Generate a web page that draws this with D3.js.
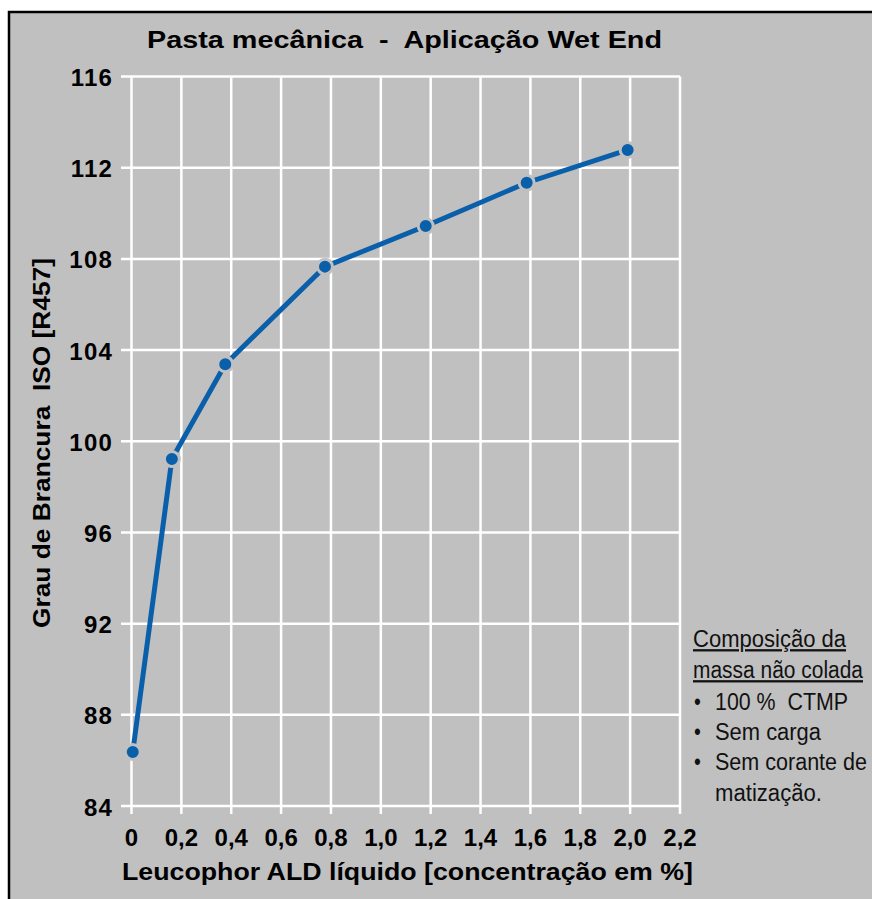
<!DOCTYPE html>
<html><head><meta charset="utf-8">
<script src="https://cdn.jsdelivr.net/npm/d3@7"></script>
<style>body{margin:0;background:#fff}svg{display:block}</style>
</head><body>
<script>
const xValues = [0.005, 0.162, 0.376, 0.776, 1.18, 1.585, 1.99];
const yValues = [86.37, 99.22, 103.38, 107.66, 109.44, 111.34, 112.78];
const xTicks = [0,0.2,0.4,0.6,0.8,1.0,1.2,1.4,1.6,1.8,2.0,2.2];
const xTickLabels = ["0","0,2","0,4","0,6","0,8","1,0","1,2","1,4","1,6","1,8","2,0","2,2"];
const yTicks = [84,88,92,96,100,104,108,112,116];
const title = "Pasta mecânica  -  Aplicação Wet End";
const xTitle = "Leucophor ALD líquido [concentração em %]";
const yTitle = "Grau de Brancura  ISO [R457]";
const noteHeader = ["Composição da","massa não colada"];
const noteItems = ["100 %  CTMP","Sem carga","Sem corante de"];
const noteTail = "matização.";

const W=872,H=899;
const svg=d3.select("body").append("svg").attr("width",W).attr("height",H);
svg.append("rect").attr("x",9).attr("y",12).attr("width",W).attr("height",H).attr("fill","#c0c0c0");
svg.append("path").attr("d",`M9,${H} V12 H${W}`).attr("fill","none").attr("stroke","#000").attr("stroke-width",2.5);

const x=d3.scaleLinear().domain([0,2.2]).range([131.5,680]);
const y=d3.scaleLinear().domain([84,116]).range([806,76.5]);
const font="'Liberation Sans', Arial, sans-serif";

// grid
const g=svg.append("g");
g.selectAll(".vg").data(xTicks).join("line")
 .attr("x1",d=>x(d)).attr("x2",d=>x(d)).attr("y1",y(116)).attr("y2",814)
 .attr("stroke","#fff").attr("stroke-width",2.5);
g.selectAll(".hg").data(yTicks).join("line")
 .attr("x1",121).attr("x2",x(2.2)).attr("y1",d=>y(d)).attr("y2",d=>y(d))
 .attr("stroke","#fff").attr("stroke-width",2.5);

// tick labels
svg.selectAll(".yl").data(yTicks).join("text")
 .attr("x",113).attr("y",d=>y(d)+9.5).attr("text-anchor","end").attr("letter-spacing",1.2)
 .attr("font-family",font).attr("font-weight","bold").attr("font-size",24).text(d=>d);
svg.selectAll(".xl").data(xTicks).join("text")
 .attr("x",(d,i)=>x(d)).attr("y",846).attr("text-anchor","middle")
 .attr("font-family",font).attr("font-weight","bold").attr("font-size",24).text((d,i)=>xTickLabels[i]);

// titles
svg.append("text").attr("x",147).attr("y",48)
 .attr("font-family",font).attr("font-weight","bold").attr("font-size",24)
 .attr("textLength",515).attr("lengthAdjust","spacingAndGlyphs").attr("xml:space","preserve").text(title);
svg.append("text").attr("x",122).attr("y",880)
 .attr("font-family",font).attr("font-weight","bold").attr("font-size",24)
 .attr("textLength",571).attr("lengthAdjust","spacingAndGlyphs").text(xTitle);
svg.append("text").attr("transform","translate(50,628) rotate(-90)")
 .attr("font-family",font).attr("font-weight","bold").attr("font-size",24)
 .attr("textLength",370).attr("lengthAdjust","spacingAndGlyphs").attr("xml:space","preserve").text(yTitle);

// line + markers
const pts=xValues.map((v,i)=>[v,yValues[i]]);
svg.append("path").datum(pts).attr("d",d3.line().x(d=>x(d[0])).y(d=>y(d[1])))
 .attr("fill","none").attr("stroke","#0a5fab").attr("stroke-width",5);
svg.selectAll(".pt").data(pts).join("circle")
 .attr("cx",d=>x(d[0])).attr("cy",d=>y(d[1])).attr("r",7.5)
 .attr("fill","#0a5fab").attr("stroke","#c0c0c0").attr("stroke-width",3);

// note (smaller font, stretched vertically to match the tall narrow lettering)
const nf="'Liberation Sans', Arial, sans-serif";
function note(xx,yy,t,len,ul){
  const tx=svg.append("text").attr("transform",`translate(${xx},${yy}) scale(1,1.18)`)
   .attr("font-family",nf).attr("font-size",19.5).attr("fill","#111")
   .attr("xml:space","preserve").text(t);
  if(len) tx.attr("textLength",len).attr("lengthAdjust","spacingAndGlyphs");
  if(ul) tx.attr("text-decoration","underline");
}
const hdrLen=[153,170];
noteHeader.forEach((t,i)=>note(693,647+i*31,t,hdrLen[i],true));
const itemLen=[133,106,152];
noteItems.forEach((t,i)=>{
  const yy=710+i*30;
  note(694,yy,"•",null,false);
  note(715,yy,t,itemLen[i],false);
});
note(715,801,noteTail,107,false);
</script>
</body></html>
